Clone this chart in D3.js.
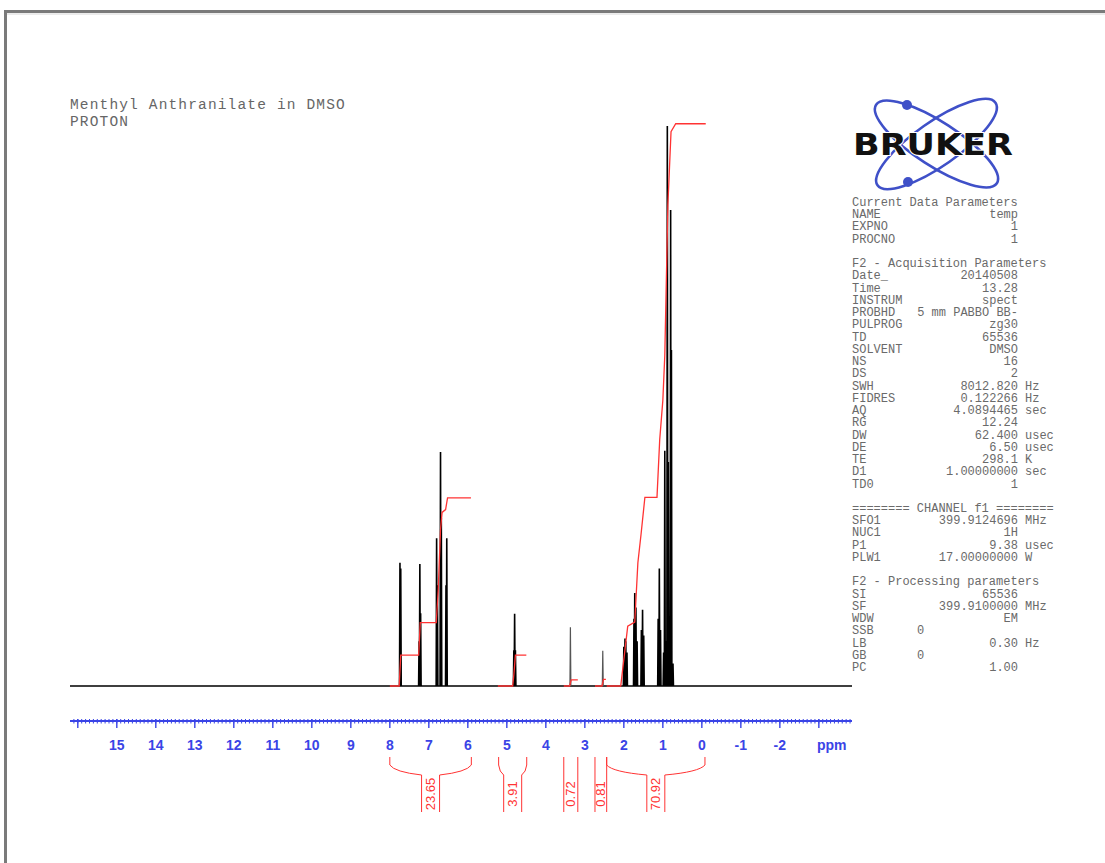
<!DOCTYPE html>
<html><head><meta charset="utf-8">
<script src="https://cdn.jsdelivr.net/npm/d3@7"></script>
<style>body{margin:0;background:#fff;overflow:hidden} svg{display:block}</style>
</head><body><svg id="c" width="1105" height="863"></svg>
<script>
// ---------- data ----------
const titleLines = ["Menthyl Anthranilate in DMSO", "PROTON"];

const tickValues = [16,15,14,13,12,11,10,9,8,7,6,5,4,3,2,1,0,-1,-2,-3];
const tickLabels = ["15","14","13","12","11","10","9","8","7","6","5","4","3","2","1","0","-1","-2"];
const tickLabelValues = [15,14,13,12,11,10,9,8,7,6,5,4,3,2,1,0,-1,-2];
const unitLabel = "ppm";

// main spectrum peaks (ppm, relative intensity %)
const peakPpm    = [7.74,7.72, 7.25,7.23,7.21, 6.80,6.78, 6.70,6.68, 6.56,6.54, 4.82,4.80,4.78,
                    2.00,1.97,1.95,1.92, 1.74,1.72,1.69,1.66, 1.55,1.52,1.49, 1.12,1.09,1.06,
                    0.98,0.95,0.92, 0.885,0.86, 0.80,0.78, 0.74];
const peakHeight = [22.0,21.0, 8.0,21.8,13.0, 26.4,18.0, 41.8,30.0, 18.0,26.4, 6.4,12.9,6.4,
                    7.0,8.5,8.0,6.0, 12.0,16.6,14.0,8.0, 10.0,13.6,9.0, 12.0,21.0,10.0,
                    6.0,42.0,8.0, 100.0,40.0, 85.0,60.0, 4.0];
// solvent / water peaks
const solventPpm    = [3.37, 2.54];
const solventHeight = [10.5, 6.3];

// integrals
const integralLabels = ["23.65","3.91","0.72","0.81","70.92"];
const integralStart  = [8.00, 5.21, 3.54, 2.74, 2.44];
const integralEnd    = [5.91, 4.49, 3.18, 2.44, -0.08];
const intCurve1Ppm = [8.00,7.76,7.72,7.26,7.22,6.81,6.76,6.70,6.66,6.57,6.52,5.92];
const intCurve1Val = [0,0,5.5,5.5,11.3,11.3,17.0,27.9,31.0,31.5,33.6,33.6];
const intCurve2Ppm = [5.23,4.85,4.82,4.78,4.50];
const intCurve2Val = [0,0,2.0,5.5,5.5];
const intCurve3Ppm = [3.54,3.39,3.35,3.18];
const intCurve3Val = [0,0,1.1,1.1];
const intCurve4Ppm = [2.74,2.56,2.52,2.46];
const intCurve4Val = [0,0,1.2,1.2];
const intCurve5Ppm = [2.44,2.08,1.90,1.72,1.64,1.56,1.46,1.15,1.08,1.00,0.95,0.87,0.79,0.67,-0.10];
const intCurve5Val = [0,0,10.7,11.4,22.0,27.0,33.7,33.7,44.0,51.0,59.0,86.0,99.0,100.4,100.4];

// parameter block
const paramLabels = ["Current Data Parameters","NAME","EXPNO","PROCNO","",
  "F2 - Acquisition Parameters","Date_","Time","INSTRUM","PROBHD","PULPROG","TD","SOLVENT","NS","DS",
  "SWH","FIDRES","AQ","RG","DW","DE","TE","D1","TD0","",
  "======== CHANNEL f1 ========","SFO1","NUC1","P1","PLW1","",
  "F2 - Processing parameters","SI","SF","WDW","SSB","LB","GB","PC"];
const paramValues = ["","temp","1","1","",
  "","20140508","13.28","spect","5 mm PABBO BB-","zg30","65536","DMSO","16","2",
  "8012.820","0.122266","4.0894465","12.24","62.400","6.50","298.1","1.00000000","1","",
  "","399.9124696","1H","9.38","17.00000000","",
  "","65536","399.9100000","EM","","0.30","","1.00"];
const paramUnits = ["","","","","",
  "","","","","","","","","","",
  "Hz","Hz","sec","","usec","usec","K","sec","","",
  "","MHz","","usec","W","",
  "","","MHz","","","Hz","",""];
const paramLeftValues = ["","","","","","","","","","","","","","","","","","","","","","","","","","","","","","","","","","","","0","","0",""];

// ---------- layout ----------
const svg = d3.select("#c");
const x = d3.scaleLinear().domain([16.2, -3.85]).range([70, 852]);
const y = d3.scaleLinear().domain([0, 100]).range([686, 126]);
const axisY = 721;
const blue = "#3a44e6";
const red = "#ff3333";

// frame
svg.append("rect").attr("x",5.5).attr("y",11.5).attr("width",1200).attr("height",900)
  .attr("fill","none").attr("stroke","#7a7a7a").attr("stroke-width",3);
svg.append("line").attr("x1",7).attr("x2",1105).attr("y1",14).attr("y2",14)
  .attr("stroke","#d8d8d8").attr("stroke-width",1);

// title
svg.append("g").selectAll("text").data(titleLines).join("text")
  .attr("x",70).attr("y",(d,i)=>109+i*17)
  .attr("font-family","Liberation Mono, Courier New, monospace").attr("font-size",14.5)
  .attr("letter-spacing",1.15).attr("fill","#666").text(d=>d);

// spectrum baseline + peaks
const order = d3.range(peakPpm.length).sort((a,b)=>peakPpm[b]-peakPpm[a]);
const w = 0.012;
const specPts = [[x.domain()[0],0]];
order.forEach(i=>{specPts.push([peakPpm[i]+w,0],[peakPpm[i],peakHeight[i]],[peakPpm[i]-w,0]);});
specPts.push([x.domain()[1],0]);
const line = d3.line().x(d=>x(d[0])).y(d=>y(d[1]));
svg.append("path").datum(specPts).attr("d",line).attr("fill","none")
  .attr("stroke","#000").attr("stroke-width",1.6).attr("stroke-linejoin","miter");
// solvent peaks
svg.append("g").selectAll("path").data(d3.range(solventPpm.length)).join("path")
  .attr("d",i=>line([[solventPpm[i]+w,0],[solventPpm[i],solventHeight[i]],[solventPpm[i]-w,0]]))
  .attr("fill","none").attr("stroke","#555").attr("stroke-width",1.2);

// integral curves
const curves = [[intCurve1Ppm,intCurve1Val],[intCurve2Ppm,intCurve2Val],[intCurve3Ppm,intCurve3Val],
                [intCurve4Ppm,intCurve4Val],[intCurve5Ppm,intCurve5Val]];
svg.append("g").selectAll("path").data(curves).join("path")
  .attr("d",c=>line(c[0].map((p,i)=>[p,c[1][i]])))
  .attr("fill","none").attr("stroke",red).attr("stroke-width",1.3);

// axis
const gA = svg.append("g");
gA.append("line").attr("x1",x.range()[0]).attr("x2",x.range()[1]).attr("y1",axisY).attr("y2",axisY)
  .attr("stroke",blue).attr("stroke-width",2);
const minor = d3.range(161,-39,-1).map(v=>v/10).filter(v=>v<=16.2 && v>=-3.85);
gA.selectAll("line.mn").data(minor).join("line").attr("class","mn")
  .attr("x1",d=>x(d)).attr("x2",d=>x(d)).attr("y1",axisY-2).attr("y2",axisY+2.5)
  .attr("stroke",blue).attr("stroke-width",1);
gA.selectAll("line.mj").data(tickValues).join("line").attr("class","mj")
  .attr("x1",d=>x(d)).attr("x2",d=>x(d)).attr("y1",axisY-2).attr("y2",axisY+7)
  .attr("stroke",blue).attr("stroke-width",1.4);
gA.selectAll("text").data(tickLabelValues).join("text")
  .attr("x",d=>x(d)).attr("y",axisY+29).attr("text-anchor","middle")
  .attr("font-family","Liberation Sans, Arial, sans-serif").attr("font-weight","bold")
  .attr("font-size",14).attr("fill",blue).text((d,i)=>tickLabels[i]);
gA.append("text").attr("x",x(-3.33)).attr("y",axisY+29).attr("text-anchor","middle")
  .attr("font-family","Liberation Sans, Arial, sans-serif").attr("font-weight","bold")
  .attr("font-size",14).attr("fill",blue).text(unitLabel);

// integral brackets
const gI = svg.append("g");
integralLabels.forEach((lab,i)=>{
  const xs = x(integralStart[i]), xe = x(integralEnd[i]);
  const xc = (xs+xe)/2, hw = Math.min((xe-xs)/2, 9);
  const g = gI.append("g");
  const p = d3.path();
  p.moveTo(xs,757); p.lineTo(xs,765);
  p.quadraticCurveTo(xs+(xc-hw-xs)*0.15, 772, xc-hw, 775);
  p.lineTo(xc-hw,812);
  p.moveTo(xe,757); p.lineTo(xe,765);
  p.quadraticCurveTo(xe-(xe-(xc+hw))*0.15, 772, xc+hw, 775);
  p.lineTo(xc+hw,812);
  g.append("path").attr("d",p.toString()).attr("stroke",red).attr("stroke-width",1).attr("fill","none");
  g.append("text").attr("transform",`translate(${xc+4.5},794) rotate(-90)`)
    .attr("text-anchor","middle").attr("font-family","Liberation Sans, Arial, sans-serif")
    .attr("font-size",13).attr("fill",red).text(lab);
});

// logo
const gL = svg.append("g");
const logoBlue = "#3f50c8";
[33,-35].forEach(a=>{
  gL.append("ellipse").attr("cx",936.5).attr("cy",144).attr("rx",72).attr("ry",22)
    .attr("transform",`rotate(${a},936.5,144)`).attr("fill","none")
    .attr("stroke",logoBlue).attr("stroke-width",2.6);
});
gL.append("circle").attr("cx",907).attr("cy",105).attr("r",5).attr("fill",logoBlue);
gL.append("circle").attr("cx",908).attr("cy",182).attr("r",5).attr("fill",logoBlue);
gL.append("text").attr("x",853).attr("y",155).attr("font-family","DejaVu Sans, sans-serif")
  .attr("font-weight","bold").attr("font-size",31).attr("textLength",160)
  .attr("lengthAdjust","spacingAndGlyphs").attr("fill","#111")
  .attr("stroke","#fff").attr("stroke-width",2).attr("paint-order","stroke").text("BRUKER");

// parameters
const gP = svg.append("g").attr("font-family","Liberation Mono, Courier New, monospace")
  .attr("font-size",12).attr("fill","#6a6a6a");
paramLabels.forEach((lab,i)=>{
  const yy = 206 + i*12.24;
  if(lab) gP.append("text").attr("x",852).attr("y",yy).text(lab);
  if(paramValues[i]) gP.append("text").attr("x",1018).attr("y",yy).attr("text-anchor","end").text(paramValues[i]);
  if(paramUnits[i]) gP.append("text").attr("x",1025).attr("y",yy).text(paramUnits[i]);
  if(paramLeftValues[i]) gP.append("text").attr("x",917).attr("y",yy).text(paramLeftValues[i]);
});
</script></body></html>
